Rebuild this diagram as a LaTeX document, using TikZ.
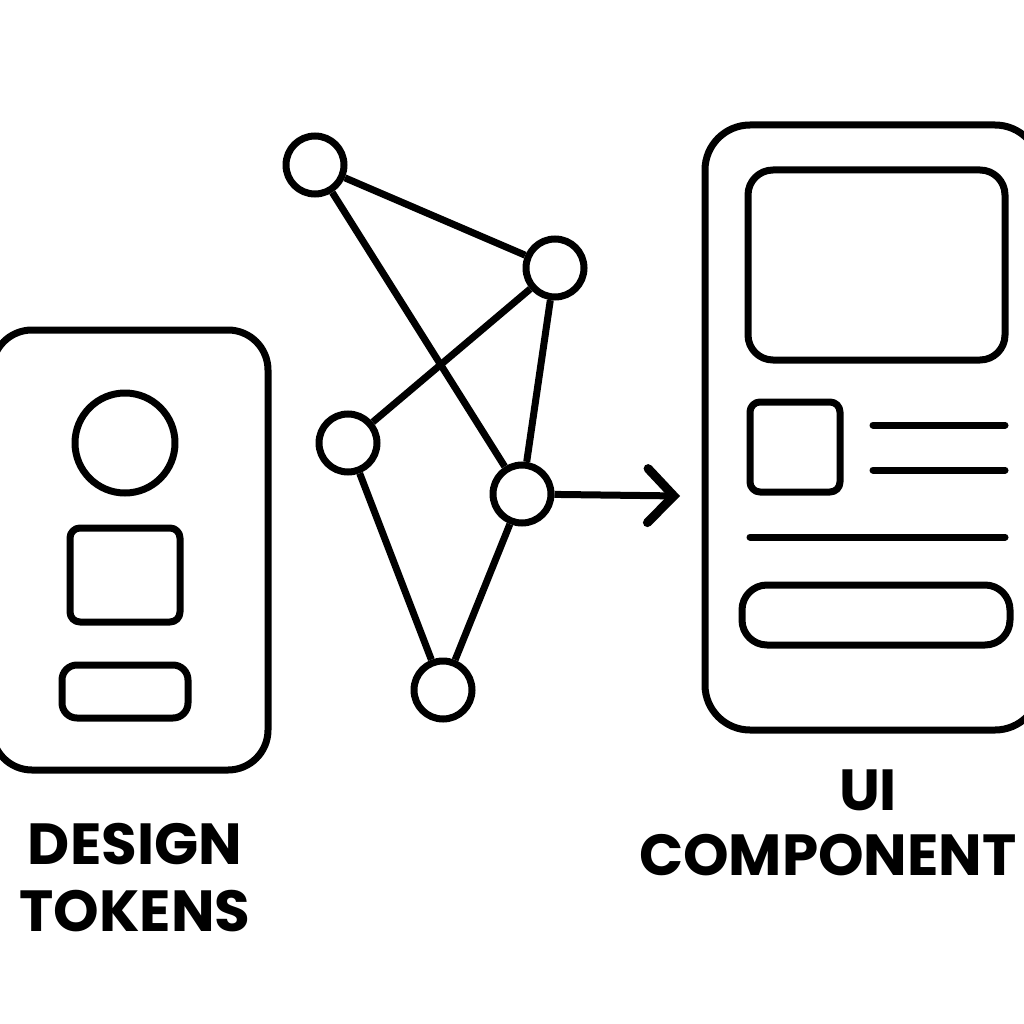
\documentclass[tikz,border=0pt]{standalone}
\usepackage{fontspec}
\setmainfont{Poppins}
\usepackage{tikz}
\usetikzlibrary{arrows,arrows.meta,shapes,positioning}
\tikzstyle{outline} = [line width=7pt,draw=black,line cap=round,line join=round]
\tikzstyle{dot} = [circle,line width=7pt,draw=black,fill=white,minimum size=58pt,inner sep=0pt]
\tikzstyle{link} = [line width=7pt,draw=black]
\tikzstyle{label} = [font=\fontsize{58}{67}\selectfont\bfseries,align=center]

\begin{document}
\begin{tikzpicture}[x=1pt,y=-1pt]
\useasboundingbox (0,0) rectangle (1024,1024);
% Design tokens card
\draw[outline, rounded corners=40pt] (-8,330) rectangle (268,770);
\draw[outline] (125,443) circle (50);
\draw[outline, rounded corners=10pt] (70,528) rectangle (180,622);
\draw[outline, rounded corners=15pt] (62,665) rectangle (188,718);

% Token graph
\node[dot] (ta) at (315,165) {};
\node[dot] (tb) at (555,268) {};
\node[dot] (tc) at (348,443) {};
\node[dot] (td) at (522,494) {};
\node[dot] (te) at (443,690) {};
\draw[link] (ta) -- (tb);
\draw[link] (ta) -- (td);
\draw[link] (tb) -- (tc);
\draw[link] (tb) -- (td);
\draw[link] (tc) -- (te);
\draw[link] (td) -- (te);

% Arrow to component
\coordinate (tip) at (680,496);
\draw[link,-{Straight Barb[length=26pt,width=54pt,line width=9pt,line cap=round]}] (td) -- (tip);

% UI component card
\draw[outline, rounded corners=45pt] (705,125) rectangle (1040,730);
\draw[outline, rounded corners=25pt] (748,170) rectangle (1005,360);
\draw[outline, rounded corners=10pt] (750,402) rectangle (840,492);
\draw[outline] (873,425) -- (1005,425);
\draw[outline] (873,470) -- (1005,470);
\draw[outline] (750,537) -- (1005,537);
\draw[outline, rounded corners=25pt] (742,585) rectangle (1010,645);

% Labels
\node[label] (tokens) at (135,878) {DESIGN\\TOKENS};
\node[label] (ui) at (868,790) {UI};
\node[label] (comp) at (828,855) {COMPONENT};
\end{tikzpicture}
\end{document}
